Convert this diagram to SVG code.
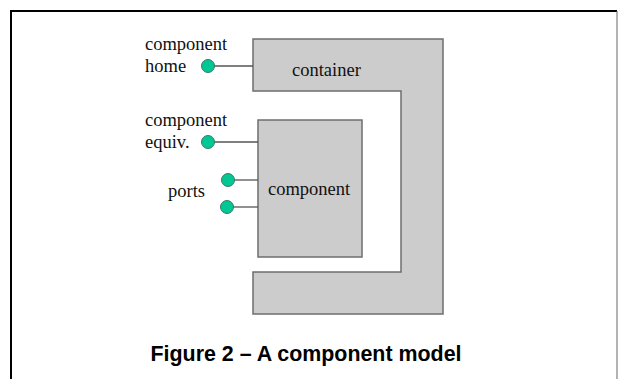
<svg xmlns="http://www.w3.org/2000/svg" width="618" height="379" viewBox="0 0 618 379">
<style>
.lbl{font-family:"Liberation Serif","Times New Roman",serif;font-size:18.5px;fill:#111}
.box{fill:#cccccc;stroke:#6e6e6e;stroke-width:1.5}
.port{fill:#00c794;stroke:#3a7a66;stroke-width:1}
.wire{stroke:#555;stroke-width:1.3;fill:none}
.cap{font-family:"Liberation Sans",Arial,sans-serif;font-size:21.4px;font-weight:bold;fill:#000}
</style>
<rect width="618" height="379" fill="#fff"/>
<g id="frame">
<line x1="11" y1="379" x2="11" y2="11" stroke="#000" stroke-width="2"/>
<line x1="10" y1="11" x2="617" y2="11" stroke="#000" stroke-width="2"/>
<line x1="617" y1="11" x2="617" y2="379" stroke="#666" stroke-width="1"/>
</g>
<g id="container">
<polygon class="box" points="253,39 443,39 443,314 253,314 253,272 401,272 401,91 253,91"/>
<text class="lbl" x="292" y="76">container</text>
</g>
<g id="component">
<rect class="box" x="258" y="120" width="104" height="137"/>
<text class="lbl" x="268" y="195">component</text>
</g>
<g id="connectors">
<line class="wire" x1="214" y1="66" x2="253" y2="66"/>
<line class="wire" x1="214" y1="142" x2="258" y2="142"/>
<line class="wire" x1="234" y1="180" x2="258" y2="180"/>
<line class="wire" x1="233" y1="207" x2="258" y2="207"/>
</g>
<g id="component-home">
<circle class="port" cx="208" cy="66" r="6.5"/>
<text class="lbl" x="145" y="50">component</text>
<text class="lbl" x="145" y="72">home</text>
</g>
<g id="component-equiv">
<circle class="port" cx="208" cy="142" r="6.5"/>
<text class="lbl" x="145" y="126">component</text>
<text class="lbl" x="145" y="148">equiv.</text>
</g>
<g id="ports">
<circle class="port" cx="228" cy="180" r="6.5"/>
<circle class="port" cx="227" cy="207" r="6.5"/>
<text class="lbl" x="168" y="197">ports</text>
</g>
<text class="cap" x="306" y="361" text-anchor="middle">Figure 2 – A component model</text>
</svg>
